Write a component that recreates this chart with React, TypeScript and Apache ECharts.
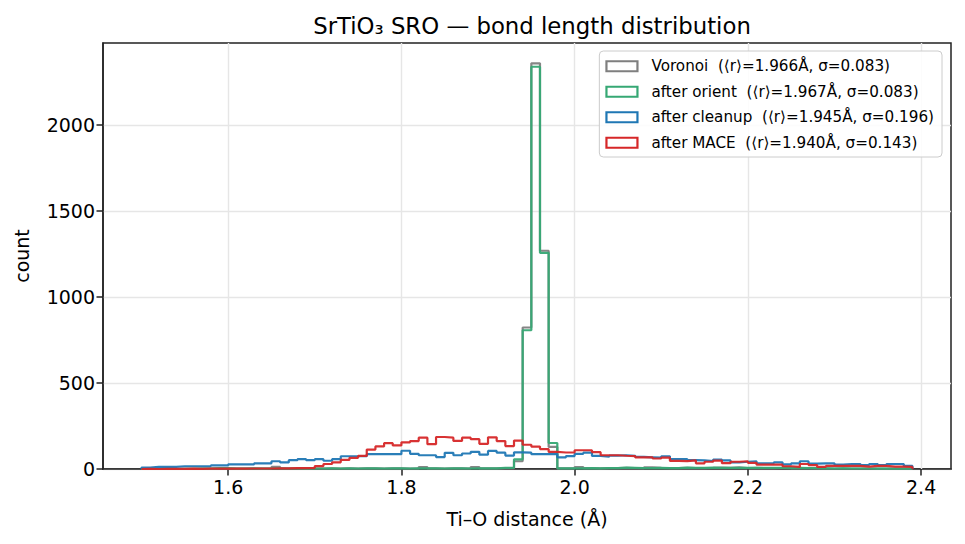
import React, { useEffect, useRef } from "react";
import * as echarts from "echarts";

// Histogram bins: 0.01 Å wide, left edge of the first bin at 1.50 Å (89 bins, last edge 2.39 Å)
const BIN_START = 1.5;
const BIN_WIDTH = 0.01;

// Counts per bin for each stage of the structure pipeline
const voronoiCounts = [
  0, 0, 1, 0, 1, 1, 2, 2, 3, 3, 2, 2, 3, 2, 3, 12, 3, 3, 2, 3,
  3, 4, 3, 4, 3, 4, 4, 3, 4, 4, 3, 4, 11, 4, 3, 4, 4, 3, 11, 4,
  4, 5, 5, 45, 822, 2357, 1268, 128, 4, 4, 11, 5, 4, 5, 5, 6, 5, 5, 10, 6,
  5, 5, 6, 5, 5, 6, 8, 6, 9, 5, 6, 5, 5, 6, 10, 5, 5, 4, 4, 3,
  4, 3, 3, 3, 2, 2, 2, 2, 2,
];
const orientCounts = [
  0, 0, 1, 0, 1, 1, 2, 2, 5, 5, 2, 2, 4, 3, 3, 4, 3, 3, 2, 3,
  3, 4, 3, 4, 3, 4, 4, 3, 4, 4, 3, 4, 4, 4, 3, 4, 4, 3, 4, 4,
  4, 7, 7, 56, 806, 2337, 1256, 151, 4, 4, 4, 5, 4, 5, 5, 8, 7, 5, 5, 6,
  5, 5, 8, 7, 7, 8, 7, 7, 6, 6, 6, 6, 6, 6, 5, 6, 5, 5, 4, 3,
  4, 3, 3, 3, 2, 2, 2, 2, 2,
];
const cleanupCounts = [
  8, 12, 12, 12, 16, 16, 16, 16, 21, 21, 27, 27, 27, 33, 33, 45, 38, 51, 57, 51,
  57, 48, 57, 74, 74, 74, 86, 86, 86, 86, 106, 88, 80, 80, 69, 94, 80, 90, 100, 83,
  105, 95, 78, 97, 95, 86, 86, 87, 68, 75, 88, 95, 76, 72, 78, 80, 76, 70, 68, 66,
  74, 57, 58, 52, 50, 46, 55, 50, 38, 42, 45, 33, 33, 39, 27, 33, 45, 31, 33, 33,
  25, 29, 29, 23, 29, 23, 29, 29, 18,
];
const maceCounts = [
  1, 0, 1, 1, 1, 2, 1, 2, 2, 2, 3, 2, 3, 3, 3, 4, 4, 5, 5, 6,
  17, 29, 39, 53, 65, 76, 113, 131, 150, 137, 155, 162, 182, 144, 186, 182, 163, 182, 173, 146,
  184, 162, 133, 165, 141, 130, 116, 99, 96, 96, 109, 109, 98, 80, 80, 77, 75, 67, 68, 61,
  66, 47, 46, 50, 33, 42, 49, 34, 42, 45, 36, 25, 25, 25, 16, 12, 29, 23, 12, 18,
  18, 18, 18, 14, 18, 18, 14, 14, 12,
];

const seriesNames = [
  "Voronoi  (⟨r⟩=1.966Å, σ=0.083)",
  "after orient  (⟨r⟩=1.967Å, σ=0.083)",
  "after cleanup  (⟨r⟩=1.945Å, σ=0.196)",
  "after MACE  (⟨r⟩=1.940Å, σ=0.143)",
];
const seriesColors = ["#7f7f7f", "#36a874", "#1f77b4", "#d62728"];
const seriesCounts = [voronoiCounts, orientCounts, cleanupCounts, maceCounts];

const xTicks = [1.6, 1.8, 2.0, 2.2, 2.4];
const yTicks = [0, 500, 1000, 1500, 2000];

const FONT = "DejaVu Sans";

const edgeAt = (i: number) => +(BIN_START + i * BIN_WIDTH).toFixed(4);

// Outline of a step histogram: up from the baseline at the first edge, across each bin, down at the last edge
function stepOutline(counts: number[]): number[][] {
  const pts: number[][] = [[edgeAt(0), 0]];
  counts.forEach((c, i) => {
    pts.push([edgeAt(i), c]);
    pts.push([edgeAt(i + 1), c]);
  });
  pts.push([edgeAt(counts.length), 0]);
  return pts;
}

export default function App() {
  const ref = useRef<HTMLDivElement>(null);

  useEffect(() => {
    if (!ref.current) return;
    const chart = echarts.init(ref.current, null, { renderer: "svg" });

    const nBins = voronoiCounts.length;
    const lo = edgeAt(0);
    const hi = edgeAt(nBins);
    const pad = (hi - lo) * 0.05;
    const peak = Math.max(...seriesCounts.map((s) => Math.max(...s)));

    const series: any[] = seriesCounts.map((counts, k) => ({
      name: seriesNames[k],
      type: "line",
      data: stepOutline(counts),
      showSymbol: false,
      symbol: "none",
      lineStyle: { color: seriesColors[k], width: 2.2, opacity: 0.95 },
      itemStyle: { color: seriesColors[k] },
      z: 3,
    }));
    // vertical grid lines at the x ticks
    series[0].markLine = {
      silent: true,
      symbol: "none",
      animation: false,
      label: { show: false },
      lineStyle: { color: "#e6e6e6", width: 1.4, type: "solid" },
      data: xTicks.map((v) => ({ xAxis: v })),
      z: 1,
    };

    chart.setOption({
      animation: false,
      textStyle: { fontFamily: FONT },
      title: {
        text: "SrTiO₃ SRO — bond length distribution",
        left: 527,
        textAlign: "center",
        top: 9,
        textStyle: { fontFamily: FONT, fontSize: 22.8, fontWeight: "normal", color: "#000" },
      },
      grid: {
        left: 103,
        right: 14,
        top: 43,
        bottom: 75,
        show: true,
        borderColor: "#222",
        borderWidth: 1.5,
        containLabel: false,
        outerBoundsMode: "none",
      },
      legend: {
        orient: "vertical",
        right: 23,
        top: 51,
        padding: [7, 8, 6, 6],
        itemWidth: 31,
        itemHeight: 10,
        itemGap: 9,
        backgroundColor: "rgba(255,255,255,0.85)",
        borderColor: "#cccccc",
        borderWidth: 1,
        borderRadius: 4,
        selectedMode: false,
        textStyle: {
          fontFamily: FONT,
          fontSize: 15.2,
          color: "#000",
          lineHeight: 16.5,
          padding: [0, 0, 0, 9],
        },
        data: seriesNames.map((n, k) => ({
          name: n,
          icon: "rect",
          itemStyle: {
            color: "rgba(0,0,0,0)",
            borderColor: seriesColors[k],
            borderWidth: 2.2,
          },
        })),
      },
      xAxis: {
        type: "value",
        min: lo - pad,
        max: hi + pad,
        name: "Ti–O distance (Å)",
        nameLocation: "middle",
        nameGap: 40,
        nameTextStyle: { fontFamily: FONT, fontSize: 19, color: "#000" },
        axisLine: { show: true, onZero: false, lineStyle: { color: "#222", width: 1.5 } },
        axisTick: {
          show: true,
          customValues: xTicks,
          length: 6.5,
          lineStyle: { color: "#222", width: 1.5 },
        },
        axisLabel: {
          customValues: xTicks,
          formatter: (v: number) => v.toFixed(1),
          fontFamily: FONT,
          fontSize: 19,
          color: "#000",
          margin: 8,
        },
        splitLine: { show: false },
      },
      yAxis: {
        type: "value",
        min: 0,
        max: Math.round(peak * 1.05),
        interval: 500,
        name: "count",
        nameLocation: "middle",
        nameGap: 72,
        nameRotate: 90,
        nameTextStyle: { fontFamily: FONT, fontSize: 19, color: "#000" },
        axisLine: { show: true, lineStyle: { color: "#222", width: 1.5 } },
        axisTick: {
          show: true,
          customValues: yTicks,
          length: 6.5,
          lineStyle: { color: "#222", width: 1.5 },
        },
        axisLabel: {
          customValues: yTicks,
          formatter: (v: number) => String(v),
          fontFamily: FONT,
          fontSize: 19,
          color: "#000",
          margin: 8,
        },
        splitLine: { show: true, lineStyle: { color: "#e6e6e6", width: 1.4 } },
      },
      series,
    });

    return () => chart.dispose();
  }, []);

  return (
    <div
      ref={ref}
      style={{ position: "absolute", left: 0, top: 0, width: 965, height: 544, background: "#fff" }}
    />
  );
}
